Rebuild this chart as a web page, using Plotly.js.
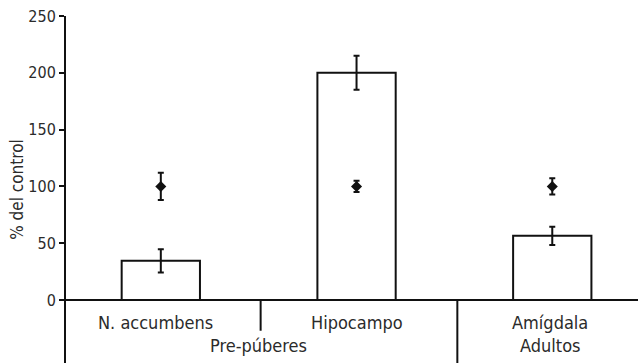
<!DOCTYPE html>
<html><head><meta charset="utf-8">
<script src="https://cdn.plot.ly/plotly-3.0.1.min.js"></script>
<style>html,body{margin:0;padding:0;background:#fff}#chart{width:638px;height:363px}</style>
</head><body><div id="chart"></div>
<script>
const categories = ['N. accumbens', 'Hipocampo', 'Amígdala'];
const groupLabels = ['Pre-púberes', 'Adultos'];
const barValues = [34.5, 200, 56.5];
const barErrors = [10.3, 15, 8];
const controlValues = [100, 100, 100];
const controlErrors = [12, 5, 7.2];
const yTicks = [0, 50, 100, 150, 200, 250];

const xs = categories.map((c, i) => i);
const yMin = -55.4, yMax = 250;
const font = '"DejaVu Sans Condensed", "DejaVu Sans", sans-serif';
const txt = '#2b2b2b';
const labelShift = [-5, 0, -2];

const traces = [
  {
    type: 'bar', x: xs, y: barValues, width: 0.4,
    marker: {color: '#ffffff', line: {color: '#111', width: 2}},
    error_y: {type: 'data', array: barErrors, visible: true, color: '#111', thickness: 2, width: 3},
    hoverinfo: 'skip'
  },
  {
    type: 'scatter', mode: 'markers', x: xs, y: controlValues,
    marker: {symbol: 'diamond', size: 8.5, color: '#111'},
    error_y: {type: 'data', array: controlErrors, visible: true, color: '#111', thickness: 2, width: 3},
    hoverinfo: 'skip'
  }
];

const annotations = categories.map((c, i) => ({
  x: i, y: -19.5, xref: 'x', yref: 'y', text: c, showarrow: false, xshift: labelShift[i],
  xanchor: 'center', yanchor: 'middle', font: {family: font, size: 18, color: txt}
}));
annotations.push({x: 0.5, y: -39.8, xref: 'x', yref: 'y', text: groupLabels[0], showarrow: false,
  xanchor: 'center', yanchor: 'middle', font: {family: font, size: 18, color: txt}});
annotations.push({x: 2, y: -39.8, xref: 'x', yref: 'y', text: groupLabels[1], showarrow: false, xshift: -2,
  xanchor: 'center', yanchor: 'middle', font: {family: font, size: 18, color: txt}});

const shapes = [
  {type: 'line', xref: 'x', yref: 'y', x0: 0.51, x1: 0.51, y0: 0, y1: -27, line: {color: '#111', width: 2}},
  {type: 'line', xref: 'x', yref: 'y', x0: 1.515, x1: 1.515, y0: 0, y1: yMin, line: {color: '#111', width: 2}}
];

const layout = {
  width: 638, height: 363,
  margin: {l: 66, r: 0, t: 16, b: 0, pad: 0},
  paper_bgcolor: '#fff', plot_bgcolor: '#fff',
  showlegend: false,
  xaxis: {range: [-0.4844, 2.438], showgrid: false, zeroline: false, showline: false,
    showticklabels: false, ticks: '', fixedrange: true},
  yaxis: {range: [yMin, yMax], tickvals: yTicks, ticktext: yTicks.map(String),
    showgrid: false, showline: true, linecolor: '#111', linewidth: 2,
    zeroline: true, zerolinecolor: '#111', zerolinewidth: 2,
    ticks: 'outside', ticklen: 5, tickwidth: 2, tickcolor: '#111',
    tickfont: {family: font, size: 16, color: txt},
    title: {text: '% del control', font: {family: font, size: 17, color: txt}, standoff: 0}},
  annotations: annotations,
  shapes: shapes
};

Plotly.newPlot('chart', traces, layout, {staticPlot: true, displayModeBar: false});
</script></body></html>
